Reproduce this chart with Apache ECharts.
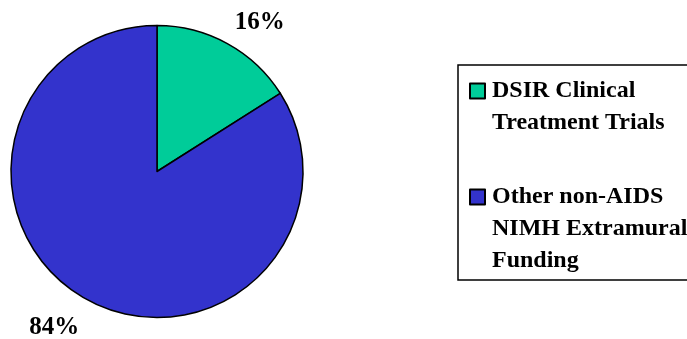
<!DOCTYPE html>
<html>
<head>
<meta charset="utf-8">
<script src="https://cdn.jsdelivr.net/npm/echarts@6/dist/echarts.min.js"></script>
<style>
  html, body { margin: 0; padding: 0; background: #ffffff; }
  #chart { width: 687px; height: 339px; }
</style>
</head>
<body>
<div id="chart"></div>
<script>
// Share of funding, in percent
const categories = ['DSIR Clinical\nTreatment Trials', 'Other non-AIDS\nNIMH Extramural\nFunding'];
const values = [16, 84];
const colors = ['#00CC99', '#3333CC'];

const FONT = 'Liberation Serif, Times New Roman, serif';
const LINE_H = 32;

const chart = echarts.init(document.getElementById('chart'), null, { renderer: 'canvas' });

// One legend block per entry. The text block is centred on the icon, so blank
// lines are prepended to bring the first line of each name level with its icon.
function legendFor(i, top) {
  const lines = categories[i].split('\n').length;
  return {
    orient: 'vertical',
    left: 469,
    top: top,
    padding: 0,
    itemWidth: 15,
    itemHeight: 15,
    icon: 'rect',
    selectedMode: false,
    data: [categories[i]],
    formatter: name => '\n'.repeat(lines - 1) + name,
    textStyle: {
      fontFamily: FONT,
      fontWeight: 'bold',
      fontSize: 24,
      lineHeight: LINE_H,
      color: '#000',
      padding: [0, 0, 0, 2]
    }
  };
}

chart.setOption({
  animation: false,
  backgroundColor: '#ffffff',
  legend: [legendFor(0, 43), legendFor(1, 117)],
  graphic: [{
    type: 'rect',
    shape: { x: 458, y: 65, width: 240, height: 215 },
    style: { fill: 'none', stroke: '#000', lineWidth: 1.5 },
    silent: true
  }],
  series: [{
    type: 'pie',
    center: [157, 171.5],
    radius: 146,
    startAngle: 90,
    clockwise: true,
    silent: true,
    data: categories.map((c, i) => ({
      name: c,
      value: values[i],
      itemStyle: { color: colors[i] }
    })),
    itemStyle: { borderColor: '#000', borderWidth: 1.5 },
    label: {
      show: true,
      position: 'outside',
      formatter: p => p.value + '%',
      fontFamily: FONT,
      fontWeight: 'bold',
      fontSize: 25,
      color: '#000',
      distanceToLabelLine: -6
    },
    labelLine: { show: false, length: 28, length2: 0 },
    labelLayout: { dy: 4 }
  }]
});
</script>
</body>
</html>
